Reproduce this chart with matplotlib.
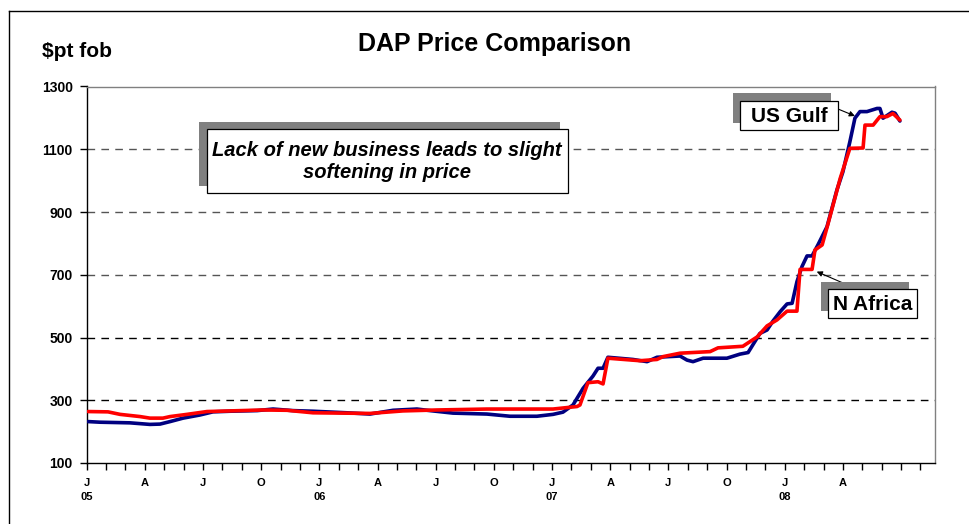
import matplotlib
matplotlib.use('Agg')
import matplotlib.pyplot as plt
from matplotlib.patches import Rectangle
from matplotlib.lines import Line2D

plt.rcParams['font.family'] = ['Liberation Sans', 'DejaVu Sans']
plt.rcParams['font.weight'] = 'bold'

# ---- data (x in months since Jan 2005) ----
gulf_month = [0.07, 0.69, 2.23, 3.26, 3.78, 4.30, 4.97, 5.84, 6.51, 7.39, 8.79, 9.61,
              10.64, 11.67, 13.43, 14.61, 15.80, 17.03, 17.70, 18.89, 20.64, 21.83,
              23.22, 24.05, 24.56, 25.08, 25.60, 26.11, 26.37, 26.63, 26.88, 28.17,
              28.90, 29.41, 30.60, 30.96, 31.27, 31.79, 33.02, 33.69, 34.11, 34.72,
              35.09, 35.40, 35.76, 36.12, 36.38, 36.63, 36.89, 37.15, 37.41, 37.71,
              38.18, 38.69, 39.00, 39.36, 39.62, 39.88, 40.24, 40.76, 40.91, 41.07,
              41.53, 41.69, 41.94]
gulf_price = [232, 230, 228, 223, 224, 232, 243, 253, 263, 265, 267, 272,
              267, 265, 260, 256, 268, 272, 267, 259, 256, 249,
              249, 255, 262, 285, 338, 377, 402, 402, 437, 430,
              423, 437, 441, 428, 423, 434, 434, 447, 452, 513,
              524, 553, 582, 607, 609, 678, 726, 760, 760, 795,
              853, 970, 1028, 1124, 1199, 1220, 1220, 1230, 1230, 1199,
              1218, 1215, 1190]

africa_month = [0.07, 1.10, 1.72, 2.75, 3.26, 3.93, 4.30, 5.17, 6.20, 7.39, 9.09,
                10.33, 11.67, 14.61, 16.31, 18.06, 20.64, 24.05, 25.29, 25.44,
                25.85, 26.37, 26.63, 26.88, 28.53, 29.41, 29.72, 30.60, 32.15,
                32.56, 33.84, 34.58, 35.09, 35.60, 36.12, 36.63, 36.79, 37.41,
                37.56, 37.93, 38.24, 38.86, 39.36, 40.04, 40.14, 40.56, 40.91,
                41.27, 41.58, 41.94]
africa_price = [264, 263, 255, 248, 243, 243, 248, 255, 264, 266, 269,
                268, 260, 258, 266, 269, 272, 272, 280, 285,
                356, 359, 352, 434, 426, 430, 439, 450, 455,
                467, 472, 502, 537, 556, 584, 584, 717, 717,
                779, 795, 864, 1007, 1103, 1104, 1177, 1177, 1204,
                1204, 1214, 1193]

tick_months = list(range(0, 40, 3))
tick_labels = ['J\n05', 'A', 'J', 'O', 'J\n06', 'A', 'J', 'O',
               'J\n07', 'A', 'J', 'O', 'J\n08', 'A']
minor_months = list(range(0, 44))
y_ticks = [100, 300, 500, 700, 900, 1100, 1300]
grid_levels = [300, 500, 700, 900, 1100]

title = 'DAP Price Comparison'
unit_label = '$pt fob'
note_text = 'Lack of new business leads to slight\nsoftening in price'

# ---- layout helpers (pixel -> figure fraction) ----
W, H = 969, 524
def fx(x):
    return x / W
def fy(y):
    return 1 - y / H

fig = plt.figure(figsize=(W / 100, H / 100), dpi=100)
fig.patch.set_facecolor('white')

ax = fig.add_axes([fx(86.7), fy(463), fx(935) - fx(86.7), fy(86.5) - fy(463)])
ax.set_xlim(0, 43.75)
ax.set_ylim(100, 1300)

for lvl in grid_levels:
    col = 'black' if lvl <= 500 else '#555555'
    ax.axhline(lvl, color=col, lw=1.0, dashes=(5.5, 4.5), zorder=1)

ax.plot(gulf_month, gulf_price, color='#000080', lw=2.6, zorder=3,
        solid_joinstyle='round', solid_capstyle='round')
ax.plot(africa_month, africa_price, color='#FF0000', lw=2.6, zorder=4,
        solid_joinstyle='round', solid_capstyle='round')

for side in ['top', 'right']:
    ax.spines[side].set_color('#808080')
    ax.spines[side].set_linewidth(1.0)
for side in ['left', 'bottom']:
    ax.spines[side].set_color('black')
    ax.spines[side].set_linewidth(1.0)

ax.set_yticks(y_ticks)
ax.set_yticklabels([str(v) for v in y_ticks], fontsize=10, fontweight='bold')
ax.tick_params(axis='y', direction='out', length=5, width=1, pad=5)

ax.set_xticks(tick_months)
ax.set_xticklabels(tick_labels, fontsize=8, fontweight='bold', linespacing=1.45)
ax.set_xticks(minor_months, minor=True)
ax.tick_params(axis='x', which='both', direction='out', length=5, width=1, pad=6)

# title and unit label
fig.text(fx(495), fy(51), title, ha='center', va='baseline',
         fontsize=18, fontweight='bold')
fig.text(fx(42), fy(57), unit_label, ha='left', va='baseline',
         fontsize=15, fontweight='bold')

# outer frame
fig.add_artist(Line2D([fx(9), 1.0], [fy(11), fy(11)], color='black', lw=1.0))
fig.add_artist(Line2D([fx(9), fx(9)], [fy(11), 0.0], color='black', lw=1.0))


def shadow_box(x0, y0, x1, y1, off=7.5):
    fig.add_artist(Rectangle((fx(x0 - off), fy(y1 - off)), fx(x1) - fx(x0),
                             fy(y0) - fy(y1), transform=fig.transFigure,
                             facecolor='#808080', edgecolor='none', zorder=5))
    fig.add_artist(Rectangle((fx(x0), fy(y1)), fx(x1) - fx(x0),
                             fy(y0) - fy(y1), transform=fig.transFigure,
                             facecolor='white', edgecolor='black', lw=0.9,
                             zorder=6))


# note box
shadow_box(206.7, 129.3, 567.7, 193.3)
fig.text(fx(387), fy(162), note_text, ha='center', va='center', fontsize=14.5,
         fontweight='bold', style='italic', linespacing=1.2, zorder=7)

# US Gulf label
ax.annotate('', xy=(39.62, 1206), xycoords='data',
            xytext=(fx(838), fy(109)), textcoords='figure fraction',
            arrowprops=dict(arrowstyle='-|>', color='black', lw=0.8,
                            mutation_scale=8, shrinkA=0, shrinkB=0), zorder=8)
shadow_box(740, 100.7, 838.3, 130)
fig.text(fx(789), fy(116), 'US Gulf', ha='center', va='center', fontsize=15,
         fontweight='bold', zorder=7)

# N Africa label
ax.annotate('', xy=(37.65, 710), xycoords='data',
            xytext=(fx(858), fy(289.5)), textcoords='figure fraction',
            arrowprops=dict(arrowstyle='-|>', color='black', lw=0.8,
                            mutation_scale=8, shrinkA=0, shrinkB=0), zorder=8)
shadow_box(828.3, 289.3, 916.7, 318.3)
fig.text(fx(872.5), fy(304.5), 'N Africa', ha='center', va='center', fontsize=15,
         fontweight='bold', zorder=7)

fig.savefig('out.png', dpi=100)
